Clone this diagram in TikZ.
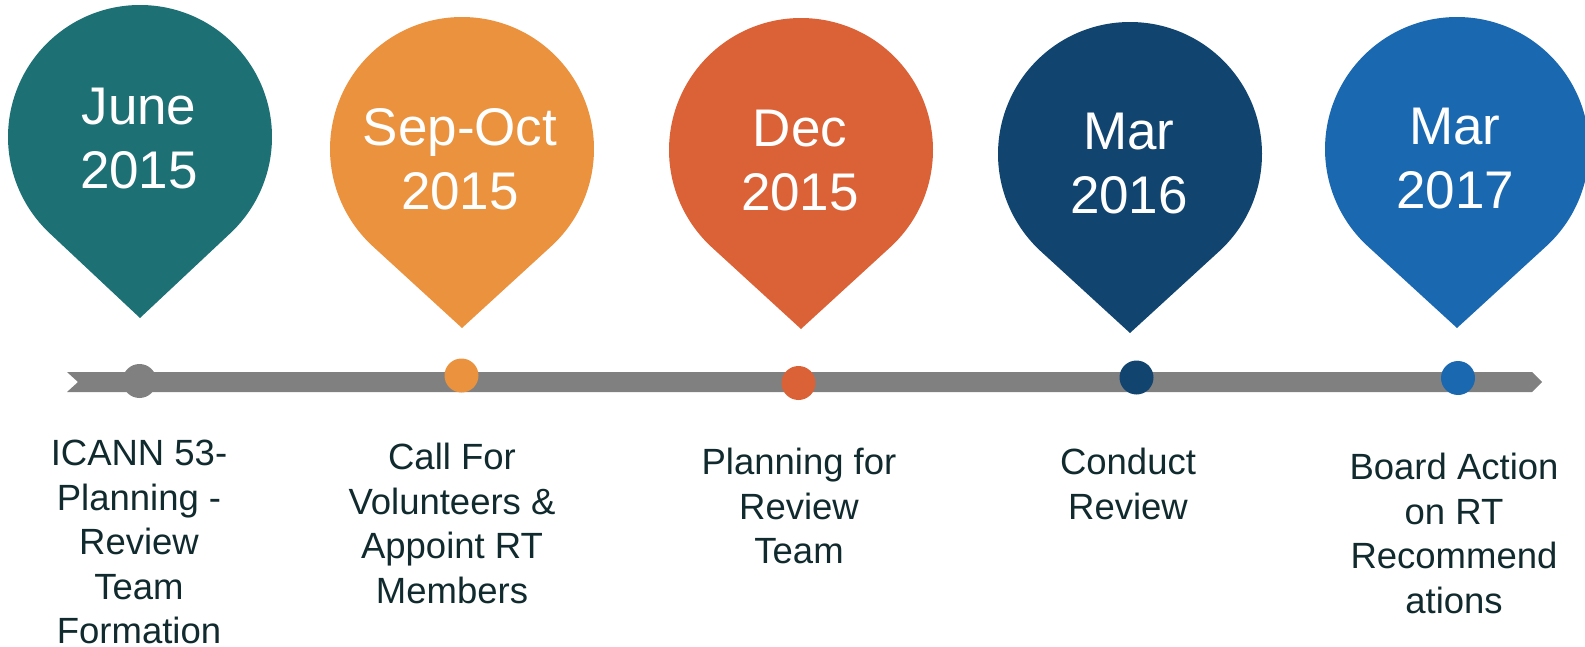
\documentclass[tikz,border=0pt]{standalone}
\usepackage{fontspec}
\setmainfont{Liberation Sans}
\definecolor{cteal}{HTML}{1D7074}
\definecolor{corange}{HTML}{EA923D}
\definecolor{cred}{HTML}{DB6236}
\definecolor{cnavy}{HTML}{11446E}
\definecolor{cblue}{HTML}{1A68B0}
\definecolor{cbar}{HTML}{808080}
\definecolor{ctext}{HTML}{112A2E}
\newcommand\pinshape[5]{%
  \pgfmathsetmacro\pinb{acos(132/#4)}%
  \fill[#5] (#2,-#3) ++({-90+\pinb}:132pt) arc[start angle={-90+\pinb}, end angle={270-\pinb}, radius=132pt] -- (#2,{-(#3+#4)}) -- cycle;%
}
\tikzset{
  datetxt/.style={text=white, font=\fontsize{53}{64}\selectfont, align=center, inner sep=0pt, anchor=north},
  desctxt/.style={text=ctext, font=\fontsize{36.5}{44.5}\selectfont, align=center, inner sep=0pt, anchor=north},
  dot/.style={circle, inner sep=0pt, minimum size=34pt},
}
\begin{document}
\begin{tikzpicture}[x=1pt,y=1pt]
\useasboundingbox (0,0) rectangle (1585,-647);
% pins
\pinshape{p1}{140}{137}{181}{cteal}
\pinshape{p2}{462}{149}{179}{corange}
\pinshape{p3}{801}{150}{179}{cred}
\pinshape{p4}{1130}{154}{179}{cnavy}
\pinshape{p5}{1457}{149}{179}{cblue}
\node[datetxt] (d1) at (139,-88) {June\\2015};
\node[datetxt] (d2) at (460,-108) {Sep-Oct\\2015};
\node[datetxt] (d3) at (800,-110) {Dec\\2015};
\node[datetxt] (d4) at (1129,-113) {Mar\\2016};
\node[datetxt] (d5) at (1455,-108) {Mar\\2017};
% timeline bar
\fill[cbar] (67,-372) -- (1532,-372) -- (1542,-382) -- (1532,-392) -- (67,-392) -- (78,-382) -- cycle;
\node[dot, fill=cbar] (m1) at (139.5,-381) {};
\node[dot, fill=corange] (m2) at (461.5,-375.5) {};
\node[dot, fill=cred] (m3) at (798.5,-383) {};
\node[dot, fill=cnavy] (m4) at (1136.5,-377.5) {};
\node[dot, fill=cblue] (m5) at (1458,-378) {};
% descriptions
\node[desctxt] (t1) at (139,-440) {ICANN 53-\\Planning -\\Review\\Team\\Formation};
\node[desctxt] (t2) at (452,-443) {Call For\\Volunteers \&\\Appoint RT\\Members};
\node[desctxt] (t3) at (799,-448) {Planning for\\Review\\Team};
\node[desctxt] (t4) at (1128,-448) {Conduct\\Review};
\node[desctxt] (t5) at (1454,-453) {Board Action\\on RT\\Recommend\\ations};
\end{tikzpicture}
\end{document}
